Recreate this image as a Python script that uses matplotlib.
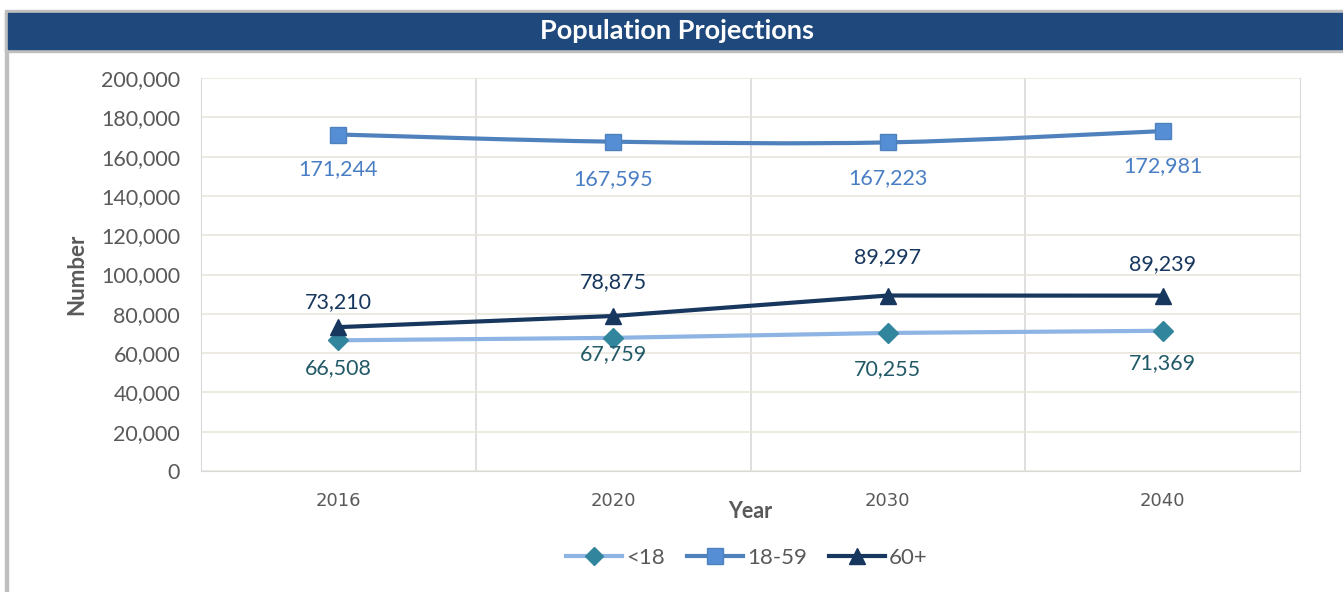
import matplotlib.pyplot as plt
from matplotlib.path import Path
from matplotlib.patches import PathPatch, Rectangle
from matplotlib.lines import Line2D
from matplotlib.ticker import FuncFormatter
import numpy as np

plt.rcParams['font.family'] = ['Lato', 'DejaVu Sans']

# Data
years = ['2016', '2020', '2030', '2040']
under18 = [66508, 67759, 70255, 71369]
age18_59 = [171244, 167595, 167223, 172981]
age60plus = [73210, 78875, 89297, 89239]
series_names = ['<18', '18-59', '60+']

# label offsets in pixels (positive = below marker)
off_under18 = [28, 16, 36, 32]
off_18_59 = [35, 37, 36, 35]
off_60 = [-25, -34, -38, -32]

c_u18_line, c_u18_mk, c_u18_txt = '#8EB4E3', '#31859C', '#215967'
c_mid_line, c_mid_mk, c_mid_txt = '#4F81BD', '#558ED5', '#4A7EC4'
c_old = '#17375E'
grey_txt = '#595959'

fig = plt.figure(figsize=(13.43, 5.92), dpi=100)

# frame and header band
fig.patches.append(Rectangle((5 / 1343, 0), 3 / 1343, 1 - 12 / 592, transform=fig.transFigure,
                             color='#BFBFBF', zorder=0))
fig.patches.append(Rectangle((5 / 1343, 1 - 52 / 592), 1, 42 / 592, transform=fig.transFigure,
                             color='#BFBFBF', zorder=0))
fig.patches.append(Rectangle((8 / 1343, 1 - 49 / 592), 1, 36 / 592, transform=fig.transFigure,
                             color='#1F497D', zorder=1))
fig.text(677 / 1343, 1 - 31 / 592, 'Population Projections', color='white', fontsize=19.5,
         fontweight='bold', ha='center', va='center')

ax = fig.add_axes([201 / 1343, 121 / 592, 1099 / 1343, 393 / 592])
x = np.arange(len(years))


def smooth_path(xs, ys):
    pts = np.column_stack([xs, ys]).astype(float)
    verts = [pts[0]]
    codes = [Path.MOVETO]
    n = len(pts)
    for i in range(n - 1):
        p0 = pts[i - 1] if i > 0 else pts[i]
        p1 = pts[i]
        p2 = pts[i + 1]
        p3 = pts[i + 2] if i + 2 < n else pts[i + 1]
        verts += [p1 + (p2 - p0) / 6, p2 - (p3 - p1) / 6, p2]
        codes += [Path.CURVE4] * 3
    return Path(verts, codes)


# only the 18-59 series is a smoothed line
ax.add_patch(PathPatch(smooth_path(x, age18_59), facecolor='none', edgecolor=c_mid_line,
                       lw=3, capstyle='round', zorder=3))
ax.plot(x, under18, color=c_u18_line, lw=3, solid_capstyle='round', zorder=3)
ax.plot(x, age60plus, color=c_old, lw=3, solid_capstyle='round', zorder=3)

ax.plot(x, under18, ls='none', marker='D', ms=10, mfc=c_u18_mk, mec=c_u18_mk, zorder=4)
ax.plot(x, age18_59, ls='none', marker='s', ms=11.5, mfc=c_mid_mk, mec=c_mid_line, mew=1, zorder=4)
ax.plot(x, age60plus, ls='none', marker='^', ms=12, mfc=c_old, mec=c_old, zorder=4)

for vals, offs, tc in [(under18, off_under18, c_u18_txt), (age18_59, off_18_59, c_mid_txt),
                       (age60plus, off_60, c_old)]:
    for xi, v, o in zip(x, vals, offs):
        ax.annotate(f'{v:,}', (xi, v), xytext=(0, -o * 0.72), textcoords='offset points',
                    ha='center', va='center', fontsize=15.5, color=tc, zorder=5)

ax.set_xlim(-0.5, 3.5)
ax.set_ylim(0, 200000)
ax.set_yticks(np.arange(0, 200001, 20000))
ax.yaxis.set_major_formatter(FuncFormatter(lambda v, p: f'{int(v):,}'))
ax.set_xticks(x)
ax.set_xticklabels(years)
ax.tick_params(axis='y', length=0, labelsize=15.5, labelcolor=grey_txt, pad=15)
ax.tick_params(axis='x', length=0, labelsize=13, labelcolor=grey_txt, pad=15)
for lbl in ax.get_xticklabels():
    lbl.set_fontfamily('DejaVu Sans')

ax.grid(axis='y', color='#EAE6DC', lw=1.2, zorder=0)
for gx in [0.5, 1.5, 2.5]:
    ax.axvline(gx, color='#D9D9D9', lw=1.2, zorder=0)
ax.spines['top'].set_visible(False)
for side in ['left', 'right', 'bottom']:
    ax.spines[side].set_color('#D9D9D9')

ax.set_ylabel('Number', fontsize=16, fontweight='bold', color=grey_txt, labelpad=10)
ax.set_xlabel('Year', fontsize=15.5, fontweight='bold', color=grey_txt, labelpad=-6)

handles = [
    Line2D([], [], color=c_u18_line, lw=3, marker='D', ms=9, mfc=c_u18_mk, mec=c_u18_mk),
    Line2D([], [], color=c_mid_line, lw=3, marker='s', ms=11, mfc=c_mid_mk, mec=c_mid_line),
    Line2D([], [], color=c_old, lw=3, marker='^', ms=11, mfc=c_old, mec=c_old),
]
leg = fig.legend(handles, series_names, loc='center', bbox_to_anchor=(747 / 1343, 1 - 558 / 592),
                 ncol=3, frameon=False, fontsize=16, handlelength=2.5, columnspacing=1.0,
                 handletextpad=0.2)
for t in leg.get_texts():
    t.set_color(grey_txt)

fig.savefig('out.png', dpi=100)
